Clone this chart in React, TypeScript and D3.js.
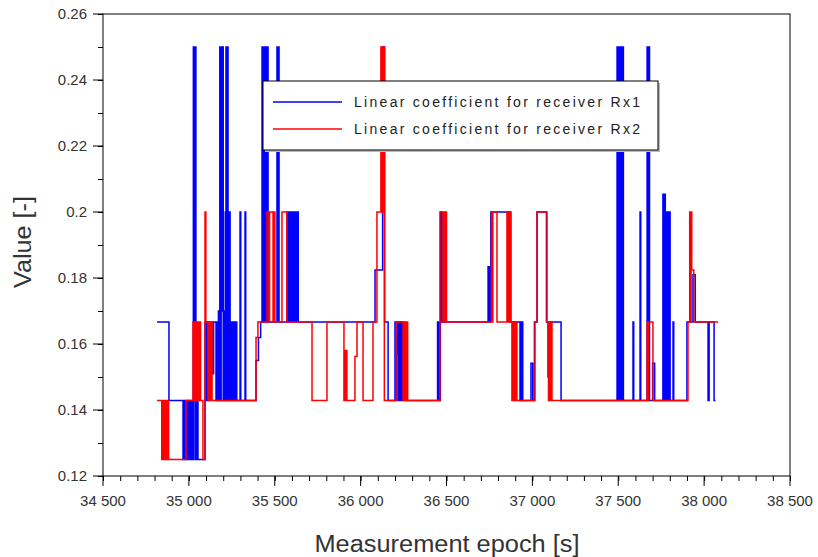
import React, { useEffect, useRef } from "react";
import * as d3 from "d3";

// receiver coefficient levels (the values are ratios 1/n)
const A = 0.125;
const B = 1 / 7;
const C = 1 / 6;
const D = 0.2;
const E = 0.25;

// [epoch (s), value] - step series
const rx1: [number, number][] = [
  [34815, C], [34884, B], [34966, A], [34970, B], [34977, A], [34981, B],
  [34989, A], [34995, B], [35001, A], [35007, B], [35013, A], [35019, B],
  [35024, A], [35026, E], [35030, B], [35033, E], [35036, A], [35038, E],
  [35041, B], [35045, A], [35049, B], [35053, A],
  [35094, C], [35100, B], [35105, C], [35111, B], [35115, C], [35138, 0.151], [35144, C],
  [35158, B], [35163, C], [35166, B], [35169, C], [35172, 0.17], [35176, B], [35180, E],
  [35184, B], [35188, E], [35192, 0.17], [35196, E], [35200, B], [35204, 0.17],
  [35208, B], [35212, D], [35216, E], [35220, B], [35224, E], [35228, D],
  [35232, B], [35236, D], [35240, C], [35243, B], [35246, C], [35249, B],
  [35252, C], [35255, B], [35258, C], [35261, B], [35264, C], [35267, B],
  [35270, C], [35273, B], [35276, C], [35279, B],
  [35298, D], [35302, B], [35327, D], [35331, B],
  [35391, 0.155], [35405, 0.162], [35418, C],
  [35426, E], [35431, C], [35436, E], [35441, C], [35446, E], [35451, C], [35456, E], [35461, C],
  [35513, E], [35518, C], [35521, E], [35525, C],
  [35571, D], [35576, C], [35581, D], [35586, C], [35591, D], [35596, C], [35601, D],
  [35606, C], [35611, D], [35616, C], [35620, D], [35626, C], [35633, D], [35637, C],
  [36084, 0.1824], [36128, E], [36140, C], [36160, B],
  [36200, C], [36205, B], [36210, 0.157], [36215, C], [36220, B], [36225, C],
  [36230, B], [36236, C], [36242, B], [36247, C], [36253, B],
  [36448, C], [36452, B], [36456, C], [36460, B], [36464, C], [36466, D], [36474, C],
  [36742, 0.1834], [36746, C], [36750, 0.1834], [36754, C], [36758, D],
  [36870, C], [36899, 0.162], [36904, C],
  [36928, B], [36932, C], [36936, B], [36940, C], [36944, B],
  [36992, 0.1542], [37002, B], [37012, C], [37027, D], [37082, C], [37167, B],
  [37493, E], [37498, B], [37502, E], [37506, B], [37510, E], [37514, B],
  [37518, E], [37522, B], [37526, E], [37530, B],
  [37586, C], [37590, B], [37627, D], [37631, B],
  [37668, E], [37673, B], [37677, E], [37682, B],
  [37700, 0.1542], [37712, B],
  [37760, 0.2054], [37765, B], [37770, 0.2054], [37774, D], [37778, B], [37782, D],
  [37786, B], [37790, D], [37794, B], [37798, D], [37802, B],
  [37819, C], [37823, B], [37900, C], [37935, 0.181], [37948, C],
  [38023, B], [38029, C], [38058, B], [38066, B],
];

const rx2: [number, number][] = [
  [34815, B], [34842, A], [34847, B], [34852, A], [34857, B], [34862, A],
  [34867, B], [34872, A], [34877, B], [34882, A], [34983, B],
  [35024, C], [35029, B], [35034, C], [35039, B], [35044, C], [35049, B],
  [35054, C], [35059, B], [35064, C], [35068, B], [35082, A], [35094, D],
  [35099, C], [35111, B], [35114, C], [35118, B], [35122, C], [35126, B],
  [35130, C], [35135, B],
  [35391, 0.162], [35402, C], [35455, D], [35466, C], [35470, D], [35490, C],
  [35494, D], [35501, C], [35542, D], [35571, C],
  [35717, B], [35804, C], [35903, B], [35907, 0.158], [35911, B], [35915, 0.158],
  [35920, B], [35967, 0.1562], [35979, C], [36014, B], [36072, C],
  [36095, D], [36118, E], [36122, D], [36126, E], [36130, D], [36134, E], [36138, B],
  [36206, C], [36247, B], [36251, C], [36256, B], [36260, C], [36265, B],
  [36269, C], [36274, B],
  [36462, D], [36480, C], [36484, D], [36489, C], [36494, D], [36500, C],
  [36762, D], [36766, C], [36770, D], [36794, C],
  [36852, D], [36857, C], [36861, D], [36866, C], [36871, D], [36876, C],
  [36881, B], [36886, C], [36891, B], [36896, C], [36901, B], [36906, C], [36910, B],
  [37015, C], [37027, D], [37085, C], [37090, 0.15], [37094, B], [37098, C],
  [37102, 0.15], [37106, B], [37110, C], [37114, B],
  [37668, C], [37672, B], [37676, C], [37702, B],
  [37906, C], [37916, D], [37920, C], [37924, D], [37928, 0.1824], [37940, C],
  [38081, C],
];

const seriesNames = [
  "Linear coefficient for receiver Rx1",
  "Linear coefficient for receiver Rx2",
];
const seriesColors = ["#0000ff", "#ff0000"];

const xTicks = [34500, 35000, 35500, 36000, 36500, 37000, 37500, 38000, 38500];
const yTicks = [0.12, 0.14, 0.16, 0.18, 0.2, 0.22, 0.24, 0.26];
const yTickLabels = ["0.12", "0.14", "0.16", "0.18", "0.2", "0.22", "0.24", "0.26"];

export default function App() {
  const ref = useRef<SVGSVGElement>(null);

  useEffect(() => {
    const w = 818;
    const h = 557;
    const left = 103;
    const right = 790;
    const top = 14;
    const bottom = 476;

    const svg = d3.select(ref.current);
    svg.selectAll("*").remove();

    const x = d3.scaleLinear().domain([34500, 38500]).range([left, right]);
    const y = d3.scaleLinear().domain([0.12, 0.26]).range([bottom, top]);

    const loc = d3.formatLocale({
      decimal: ".",
      thousands: " ",
      grouping: [3],
      currency: ["", ""],
    });
    const fmt = loc.format(",");

    svg.append("rect").attr("width", w).attr("height", h).attr("fill", "#fff");

    // series, Rx1 under Rx2
    const line = d3
      .line<[number, number]>()
      .x((d) => x(d[0]))
      .y((d) => y(d[1]))
      .curve(d3.curveStepAfter);

    [rx1, rx2].forEach((data, i) => {
      svg
        .append("path")
        .datum(data)
        .attr("fill", "none")
        .attr("stroke", seriesColors[i])
        .attr("stroke-width", 1.5)
        .attr("d", line);
    });

    // frame
    svg
      .append("rect")
      .attr("x", left)
      .attr("y", top)
      .attr("width", right - left)
      .attr("height", bottom - top)
      .attr("fill", "none")
      .attr("stroke", "#000")
      .attr("stroke-width", 1);

    const font = "Liberation Sans, Arial, sans-serif";

    // x-axis: minor ticks via axis, majors drawn longer
    const xAxis = d3
      .axisBottom(x)
      .tickValues(d3.range(34500, 38501, 100))
      .tickSize(5)
      .tickFormat(() => "");
    const gx = svg
      .append("g")
      .attr("transform", `translate(0, ${bottom})`)
      .call(xAxis);
    gx.select(".domain").remove();
    gx.selectAll(".tick line").attr("stroke", "#000");

    svg
      .append("g")
      .selectAll("line")
      .data(xTicks)
      .join("line")
      .attr("x1", (d) => x(d))
      .attr("x2", (d) => x(d))
      .attr("y1", bottom)
      .attr("y2", bottom + 10)
      .attr("stroke", "#000");

    svg
      .append("g")
      .selectAll("text")
      .data(xTicks)
      .join("text")
      .attr("x", (d) => x(d))
      .attr("y", bottom + 30)
      .attr("text-anchor", "middle")
      .attr("font-family", font)
      .attr("font-size", 15)
      .attr("fill", "#333")
      .text((d) => fmt(d));

    // y-axis
    const yAxis = d3
      .axisLeft(y)
      .tickValues(d3.range(0, 15).map((k) => 0.12 + k * 0.01))
      .tickSize(5)
      .tickFormat(() => "");
    const gy = svg
      .append("g")
      .attr("transform", `translate(${left}, 0)`)
      .call(yAxis);
    gy.select(".domain").remove();
    gy.selectAll(".tick line").attr("stroke", "#000");

    svg
      .append("g")
      .selectAll("line")
      .data(yTicks)
      .join("line")
      .attr("x1", left - 10)
      .attr("x2", left)
      .attr("y1", (d) => y(d))
      .attr("y2", (d) => y(d))
      .attr("stroke", "#000");

    svg
      .append("g")
      .selectAll("text")
      .data(yTicks)
      .join("text")
      .attr("x", left - 16)
      .attr("y", (d) => y(d) + 5)
      .attr("text-anchor", "end")
      .attr("font-family", font)
      .attr("font-size", 15)
      .attr("fill", "#333")
      .text((d, i) => yTickLabels[i]);

    // axis titles
    svg
      .append("text")
      .attr("x", (left + right) / 2 + 0.5)
      .attr("y", 552)
      .attr("text-anchor", "middle")
      .attr("font-family", font)
      .attr("font-size", 23)
      .attr("fill", "#333")
      .attr("textLength", 265)
      .attr("lengthAdjust", "spacingAndGlyphs")
      .text("Measurement epoch [s]");

    svg
      .append("text")
      .attr("transform", "rotate(-90)")
      .attr("x", -242)
      .attr("y", 31)
      .attr("text-anchor", "middle")
      .attr("font-family", font)
      .attr("font-size", 23)
      .attr("fill", "#333")
      .attr("textLength", 92)
      .attr("lengthAdjust", "spacingAndGlyphs")
      .text("Value [-]");

    // legend
    const lg = svg.append("g").attr("transform", "translate(263, 81)");
    lg.append("rect")
      .attr("x", 2)
      .attr("y", 2)
      .attr("width", 395)
      .attr("height", 69)
      .attr("fill", "#bbb");
    lg.append("rect")
      .attr("width", 395)
      .attr("height", 69)
      .attr("fill", "#fff")
      .attr("stroke", "#000");
    seriesNames.forEach((name, i) => {
      const ly = 21 + i * 27;
      lg.append("line")
        .attr("x1", 10)
        .attr("x2", 79)
        .attr("y1", ly)
        .attr("y2", ly)
        .attr("stroke", seriesColors[i])
        .attr("stroke-width", 1.5);
      lg.append("text")
        .attr("x", 91)
        .attr("y", ly + 5)
        .attr("font-family", font)
        .attr("font-size", 14)
        .attr("fill", "#222")
        .attr("textLength", 286)
        .attr("lengthAdjust", "spacing")
        .text(name);
    });
  }, []);

  return (
    <svg
      ref={ref}
      width={818}
      height={557}
      style={{ position: "absolute", left: 0, top: 0, display: "block" }}
    />
  );
}
